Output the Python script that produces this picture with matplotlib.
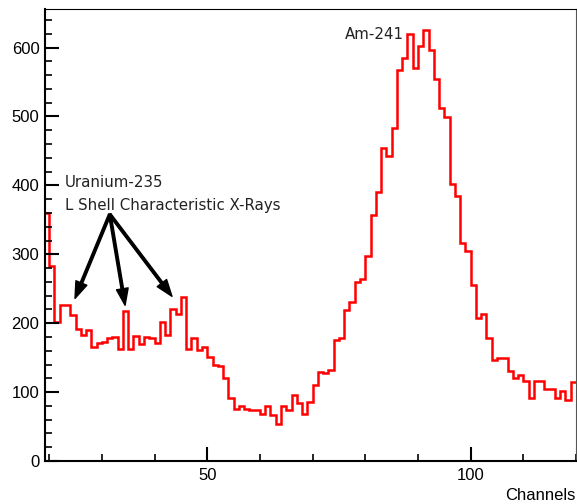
#!/usr/bin/env python3
"""Gamma spectrum (Am-241 source) with U-235 L-shell X-ray bumps, ROOT-style step histogram."""
import matplotlib

matplotlib.use("Agg")
import matplotlib.pyplot as plt
import numpy as np
from matplotlib.ticker import FixedLocator, MultipleLocator

# counts per channel, one bin per channel starting at first_channel
first_channel = 19
counts = [
    360, 283, 202, 227, 227, 212, 192, 183, 190, 166,   # 19-28
    171, 173, 179, 180, 162, 217, 162, 181, 170, 180,   # 29-38
    178, 171, 202, 183, 220, 214, 238, 163, 179, 161,   # 39-48
    166, 151, 140, 138, 120, 91, 76, 80, 75, 74,        # 49-58
    74, 68, 80, 67, 53, 80, 74, 96, 84, 68,             # 59-68
    85, 110, 129, 128, 132, 175, 178, 219, 231, 260,    # 69-78
    264, 297, 357, 390, 454, 443, 484, 568, 585, 620,   # 79-88
    570, 603, 625, 597, 555, 513, 499, 402, 384, 317,   # 89-98
    305, 255, 208, 213, 178, 146, 150, 149, 130, 121,   # 99-108
    125, 116, 92, 116, 116, 104, 104, 92, 102, 89,      # 109-118
    114,                                                # 119
]

x_range = (19.2, 120)
y_range = (0, 656)
x_major_ticks = [50, 100]

am_label = "Am-241"
u_label_lines = ["Uranium-235", "L Shell Characteristic X-Rays"]
# arrows: common tail, tips on the three L-shell bumps (channel, counts)
u_arrow_tail = (31.5, 358)
u_arrow_tips = [(24.9, 236), (34.4, 226), (43.3, 239)]


def main() -> int:
    plt.rcParams["font.family"] = ["Liberation Sans", "DejaVu Sans"]

    fig = plt.figure(figsize=(5.77, 5.04), dpi=100)
    ax = fig.add_axes([45 / 577, 1 - 461 / 504, 531 / 577, 452 / 504])

    edges = np.arange(first_channel, first_channel + len(counts) + 1)
    ax.stairs(counts, edges, baseline=None, color="#ff0000", lw=1.8)

    ax.set_xlim(*x_range)
    ax.set_ylim(*y_range)

    # ROOT-like frame: heavy axes, thin top/right
    for side in ("left", "bottom"):
        ax.spines[side].set_linewidth(1.5)
    for side in ("top", "right"):
        ax.spines[side].set_linewidth(0.8)
    ax.spines["right"].set_color("#555555")

    ax.xaxis.set_major_locator(FixedLocator(x_major_ticks))
    ax.xaxis.set_minor_locator(MultipleLocator(10))
    ax.yaxis.set_major_locator(MultipleLocator(100))
    ax.yaxis.set_minor_locator(MultipleLocator(20))
    ax.tick_params(which="both", direction="in", top=False, right=False, labelsize=12, colors="black")
    ax.tick_params(which="major", length=10, width=1.5)
    ax.tick_params(which="minor", length=5, width=1.2)
    ax.tick_params(axis="y", which="major", pad=4)
    ax.tick_params(axis="x", which="major", pad=5)

    ax.set_xlabel("Channels", loc="right", fontsize=12, labelpad=4)

    note_font = dict(family=["DejaVu Sans"], fontsize=10.8, color="#222222")
    ax.text(76.1, 612, am_label, ha="left", va="baseline", **note_font)
    ax.text(23.0, 398, u_label_lines[0], ha="left", va="baseline", **note_font)
    ax.text(23.0, 365, u_label_lines[1], ha="left", va="baseline", **note_font)
    for tip in u_arrow_tips:
        ax.annotate(
            "",
            xy=tip,
            xytext=u_arrow_tail,
            arrowprops=dict(facecolor="black", edgecolor="black", width=1.8, headwidth=8.5, headlength=12, shrink=0),
        )

    fig.savefig("out.png", dpi=100)
    plt.close(fig)
    return 0


if __name__ == "__main__":
    raise SystemExit(main())
